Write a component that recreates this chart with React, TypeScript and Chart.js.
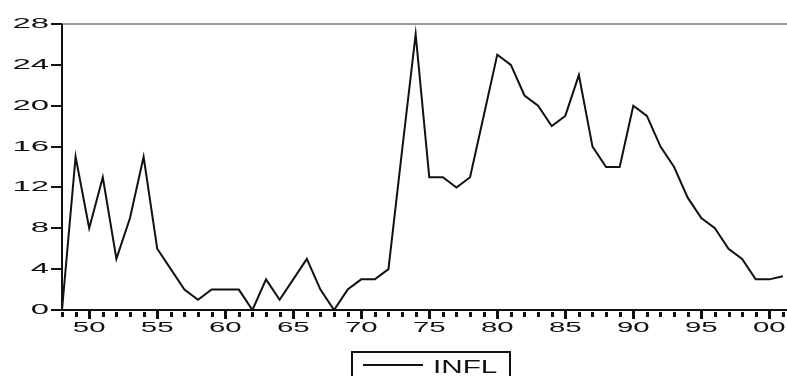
import React, { useEffect, useRef } from "react";
import { Chart, registerables } from "chart.js";

Chart.register(...registerables);

const years = [
  1948, 1949, 1950, 1951, 1952, 1953, 1954, 1955, 1956, 1957,
  1958, 1959, 1960, 1961, 1962, 1963, 1964, 1965, 1966, 1967,
  1968, 1969, 1970, 1971, 1972, 1973, 1974, 1975, 1976, 1977,
  1978, 1979, 1980, 1981, 1982, 1983, 1984, 1985, 1986, 1987,
  1988, 1989, 1990, 1991, 1992, 1993, 1994, 1995, 1996, 1997,
  1998, 1999, 2000, 2001,
];

const infl = [
  0, 15, 8, 13, 5, 9, 15, 6, 4, 2,
  1, 2, 2, 2, 0, 3, 1, 3, 5, 2,
  0, 2, 3, 3, 4, 15.6, 27, 13, 13, 12,
  13, 19, 25, 24, 21, 20, 18, 19, 23, 16,
  14, 14, 20, 19, 16, 14, 11, 9, 8, 6,
  5, 3, 3, 3.3,
];

const yTicks = [0, 4, 8, 12, 16, 20, 24, 28];
const xLabelYears = [1950, 1955, 1960, 1965, 1970, 1975, 1980, 1985, 1990, 1995, 2000];
const seriesName = "INFL";

const FONT = '"Liberation Sans", Arial, sans-serif';

function stretchedText(ctx: CanvasRenderingContext2D, text: string, x: number, y: number, sx: number, align: CanvasTextAlign, baseline: CanvasTextBaseline, font: string) {
  ctx.save();
  ctx.translate(x, y);
  ctx.scale(sx, 1);
  ctx.font = font;
  ctx.textAlign = align;
  ctx.textBaseline = baseline;
  ctx.fillText(text, 0, 0);
  ctx.restore();
}

const axesPlugin = {
  id: "eviewsAxes",
  afterDraw(chart: any) {
    const ctx: CanvasRenderingContext2D = chart.ctx;
    const { left, right, top, bottom } = chart.chartArea;
    const xs = chart.scales.x;
    const ys = chart.scales.y;
    ctx.save();
    // top gray frame line
    ctx.strokeStyle = "#9a9a9a";
    ctx.lineWidth = 2;
    ctx.beginPath();
    ctx.moveTo(left, top);
    ctx.lineTo(right, top);
    ctx.stroke();
    // left axis
    ctx.strokeStyle = "#111";
    ctx.lineWidth = 2;
    ctx.beginPath();
    ctx.moveTo(left, top);
    ctx.lineTo(left, bottom + 1);
    ctx.stroke();
    // bottom axis
    ctx.beginPath();
    ctx.moveTo(left - 1, bottom);
    ctx.lineTo(right, bottom);
    ctx.stroke();

    ctx.fillStyle = "#111";
    // y ticks and labels
    yTicks.forEach((v) => {
      const py = Math.round(ys.getPixelForValue(v));
      ctx.fillRect(left - 11, py - 1, 11, 2);
      stretchedText(ctx, String(v), left - 13, py, 2.35, "right", "middle", `14px ${FONT}`);
    });
    // x ticks
    years.forEach((yr) => {
      const px = xs.getPixelForValue(yr);
      if (yr % 5 === 0) {
        ctx.fillRect(Math.round(px) - 1, bottom, 3, 9);
      } else {
        ctx.fillRect(Math.round(px) - 1, bottom + 2, 3, 5);
      }
    });
    xLabelYears.forEach((yr) => {
      const px = xs.getPixelForValue(yr);
      const lab = String(yr % 100).padStart(2, "0");
      stretchedText(ctx, lab, px, 332, 2.1, "center", "alphabetic", `14px ${FONT}`);
    });

    // legend box
    const label = chart.data.datasets[0].label;
    ctx.strokeStyle = "#111";
    ctx.lineWidth = 2;
    ctx.strokeRect(352, 352, 158, 40);
    ctx.lineWidth = 2;
    ctx.beginPath();
    ctx.moveTo(363, 365);
    ctx.lineTo(423, 365);
    ctx.stroke();
    stretchedText(ctx, label, 433, 373, 1.65, "left", "alphabetic", `18px ${FONT}`);
    ctx.restore();
  },
};

export default function App() {
  const ref = useRef<HTMLCanvasElement>(null);
  useEffect(() => {
    document.body.style.margin = "0";
    const canvas = ref.current!;
    const chart = new Chart(canvas, {
      type: "line",
      data: {
        datasets: [
          {
            label: seriesName,
            data: years.map((yr, i) => ({ x: yr, y: infl[i] })),
            borderColor: "#111",
            borderWidth: 2,
            pointRadius: 0,
            tension: 0,
            fill: false,
          },
        ],
      },
      options: {
        animation: false,
        responsive: false,
        maintainAspectRatio: false,
        layout: { padding: { top: 24, right: 0, left: 0, bottom: 0 } },
        plugins: { legend: { display: false }, tooltip: { enabled: false } },
        scales: {
          x: {
            type: "linear",
            min: 1948,
            max: 2001.3,
            grid: { display: false },
            border: { display: false },
            ticks: { display: false },
            afterFit: (s: any) => {
              s.height = 66;
            },
          },
          y: {
            min: 0,
            max: 28,
            grid: { display: false },
            border: { display: false },
            ticks: { display: false, stepSize: 4 },
            afterFit: (s: any) => {
              s.width = 62;
            },
          },
        },
      },
      plugins: [axesPlugin],
    });
    return () => chart.destroy();
  }, []);
  return (
    <div style={{ position: "fixed", left: 0, top: 0, width: 787, height: 376, background: "#fff" }}>
      <canvas ref={ref} width={787} height={376} />
    </div>
  );
}
